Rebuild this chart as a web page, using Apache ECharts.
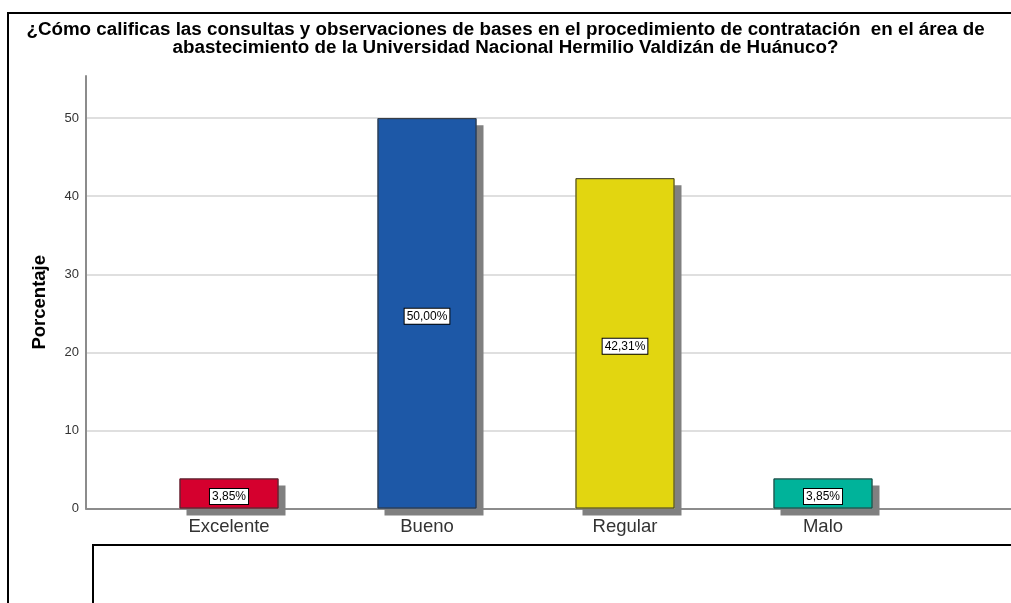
<!DOCTYPE html>
<html>
<head>
<meta charset="utf-8">
<script src="https://cdn.jsdelivr.net/npm/echarts@6/dist/echarts.min.js"></script>
<style>html,body{margin:0;padding:0;background:#fff;}#c{width:1011px;height:603px;}</style>
</head>
<body>
<div id="c"></div>
<script>
const titleText = '¿Cómo calificas las consultas y observaciones de bases en el procedimiento de contratación  en el área de\nabastecimiento de la Universidad Nacional Hermilio Valdizán de Huánuco?';
const categories = ['Excelente', 'Bueno', 'Regular', 'Malo'];
const percentages = [3.85, 50.00, 42.31, 3.85];
const barColors = ['#d5002e', '#1d58a7', '#e2d610', '#00b39a'];
const yTicks = [0, 10, 20, 30, 40, 50];
const yAxisName = 'Porcentaje';

const chart = echarts.init(document.getElementById('c'), null, {renderer: 'canvas'});
const font = 'Arial, "Liberation Sans", sans-serif';
const yMax = 55.4;

chart.setOption({
  animation: false,
  backgroundColor: '#fff',
  title: {
    text: titleText,
    left: 'center',
    top: 16,
    textStyle: {fontFamily: font, fontSize: 18.8, fontWeight: 'bold', color: '#000', lineHeight: 18}
  },
  graphic: [
    {type: 'rect', shape: {x: 8, y: 13, width: 1100, height: 700}, style: {fill: 'none', stroke: '#000', lineWidth: 2}, z: 100},
    {type: 'rect', shape: {x: 93, y: 545, width: 1000, height: 200}, style: {fill: '#fff', stroke: '#000', lineWidth: 2}, z: 100}
  ],
  grid: [
    {left: 86, right: 0, top: 76, bottom: 94.5},
    {left: 130, width: 792, top: 76, bottom: 94.5}
  ],
  xAxis: [
    {gridIndex: 0, type: 'category', data: [''], axisLine: {lineStyle: {color: '#8c8c8c', width: 2}}, axisTick: {show: false}, axisLabel: {show: false}},
    {gridIndex: 1, type: 'category', data: categories, axisLine: {show: false}, axisTick: {show: false},
      axisLabel: {fontFamily: font, fontSize: 18.5, color: '#333', margin: 9}}
  ],
  yAxis: [
    {gridIndex: 0, type: 'value', min: 0, max: yMax,
      name: yAxisName, nameLocation: 'middle', nameGap: 37,
      nameTextStyle: {fontFamily: font, fontSize: 18.5, fontWeight: 'bold', color: '#000', padding: [0, 20, 0, 0]},
      axisLine: {show: true, lineStyle: {color: '#8c8c8c', width: 2}},
      axisTick: {show: false, customValues: yTicks},
      axisLabel: {customValues: yTicks, fontFamily: font, fontSize: 13, color: '#333', margin: 7},
      splitLine: {show: true, lineStyle: {color: '#d4d4d4', width: 1.5}}
    },
    {gridIndex: 1, type: 'value', min: 0, max: yMax, show: false, splitLine: {show: false}}
  ],
  series: [{
    name: 'shadowed',
    type: 'bar',
    xAxisIndex: 1,
    yAxisIndex: 1,
    barWidth: 99,
    barGap: '-100%',
    data: percentages.map((v, i) => ({value: v, itemStyle: {color: barColors[i]}})),
    itemStyle: {
      borderWidth: 0,
      shadowColor: '#808080', shadowOffsetX: 7, shadowOffsetY: 7, shadowBlur: 0
    },
    silent: true
  }, {
    name: 'outline',
    type: 'bar',
    xAxisIndex: 1,
    yAxisIndex: 1,
    barWidth: 99,
    barGap: '-100%',
    data: percentages,
    itemStyle: {color: 'rgba(0,0,0,0)', borderColor: '#333', borderWidth: 1},
    label: {
      show: true,
      position: 'inside',
      offset: [0, 3],
      formatter: p => p.value.toFixed(2).replace('.', ',') + '%',
      fontFamily: font, fontSize: 12, color: '#000',
      backgroundColor: '#fff', borderColor: '#000', borderWidth: 1,
      padding: [2, 2, 1, 2]
    }
  }]
});
</script>
</body>
</html>
